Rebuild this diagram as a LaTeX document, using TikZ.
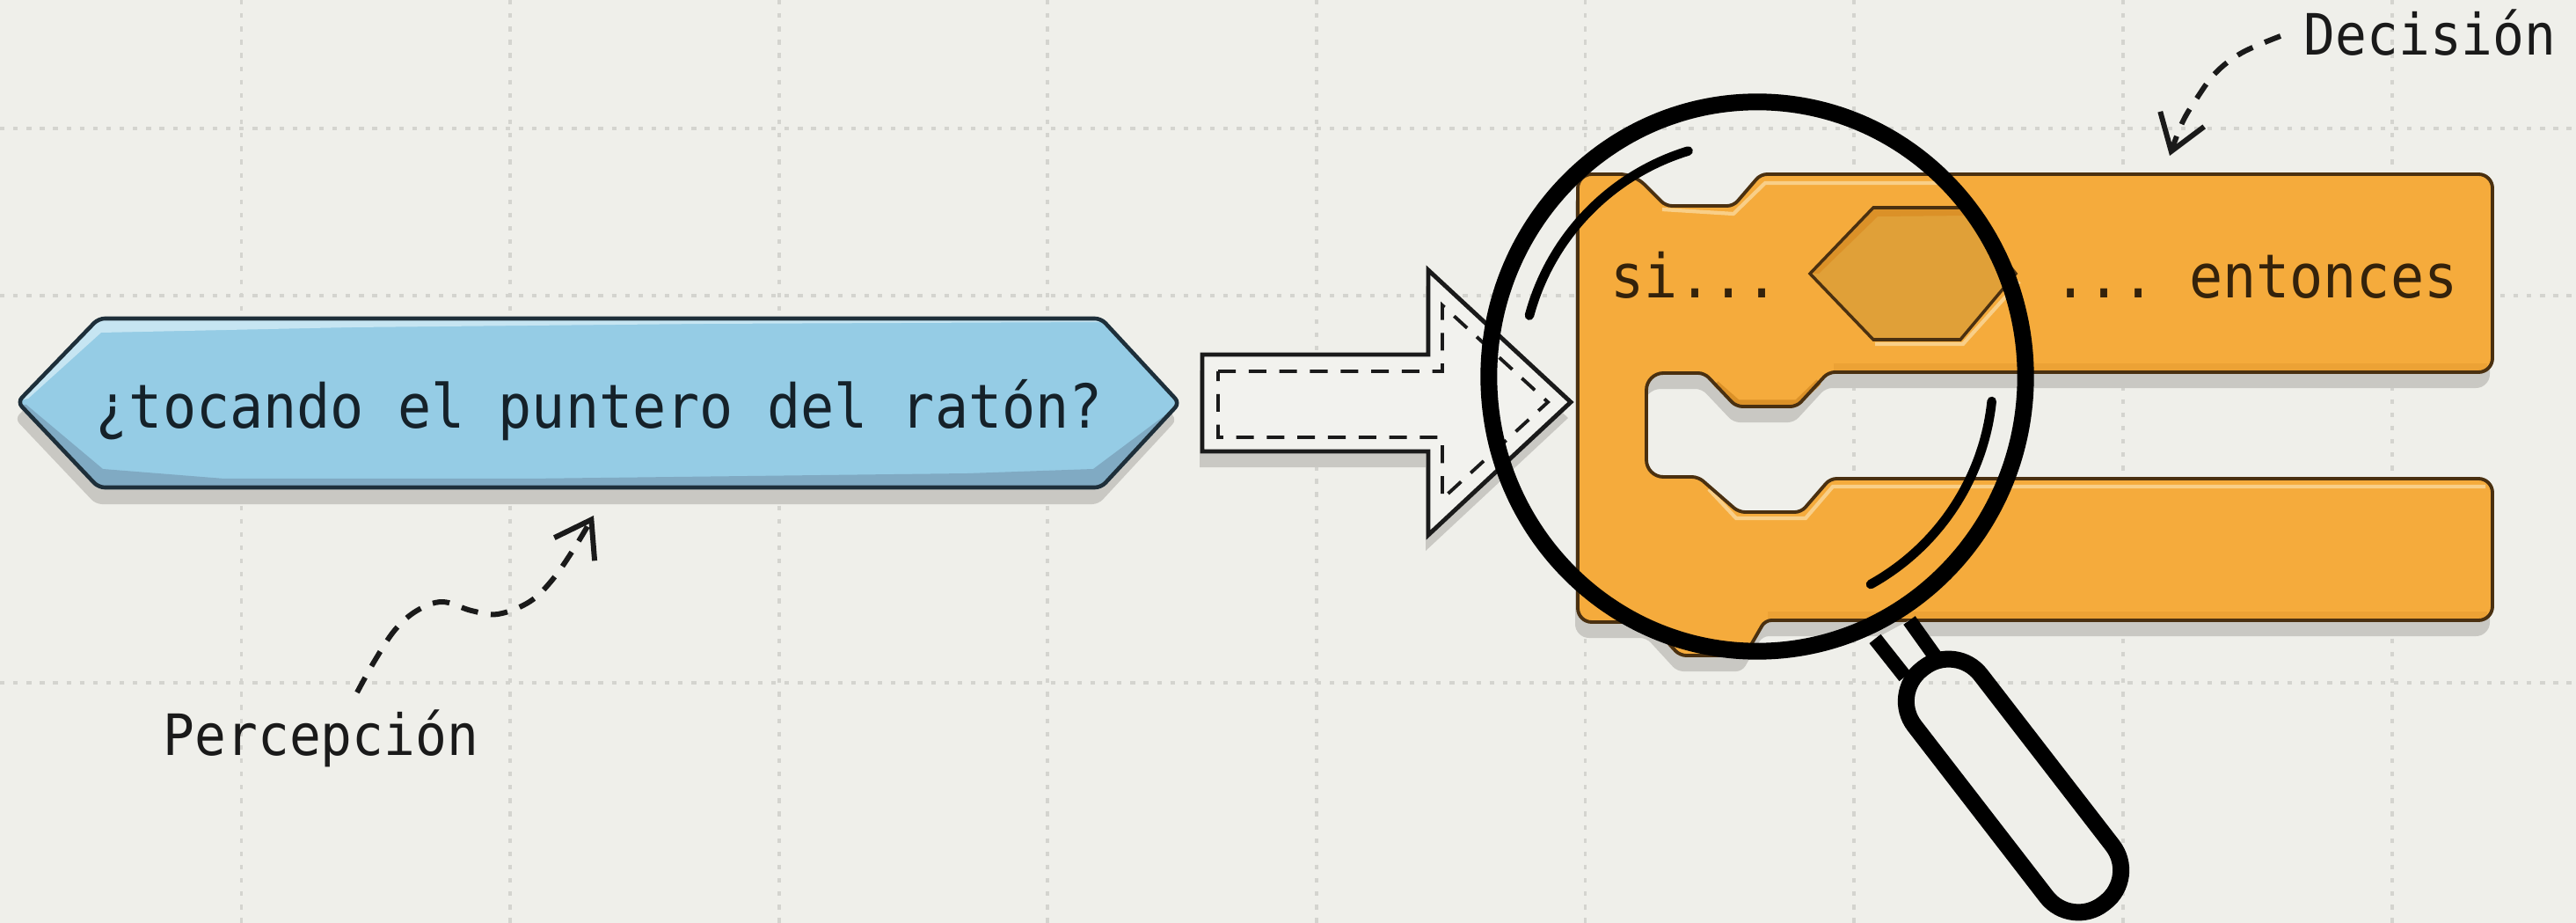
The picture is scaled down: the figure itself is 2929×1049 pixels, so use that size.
\documentclass[tikz,border=0pt]{standalone}
\usepackage{fontspec}
\setmainfont[FakeStretch=0.92]{DejaVu Sans Mono}
\usetikzlibrary{calc,arrows.meta,shapes.geometric}
\definecolor{bg}{HTML}{EFEFEA}
\definecolor{gridc}{HTML}{D4D4CF}
\definecolor{shadowc}{HTML}{C9C8C3}
\definecolor{blue1}{HTML}{95CCE5}
\definecolor{blueL}{HTML}{C6E5F2}
\definecolor{blueD}{HTML}{80AAC3}
\definecolor{blueS}{HTML}{1E2F3A}
\definecolor{or1}{HTML}{F5AB3C}
\definecolor{orL}{HTML}{F9CF88}
\definecolor{orD}{HTML}{DB9128}
\definecolor{orS}{HTML}{4A3010}
\definecolor{hexc}{HTML}{E0A038}
\definecolor{inkc}{HTML}{1A1A1A}
\tikzset{
  gridline/.style={gridc,line width=1.1pt,dash pattern=on 1.5pt off 2.8pt},
  lbl/.style={inner sep=0pt,anchor=base west,font=\fontsize{18.4}{20}\selectfont,text=inkc},
  blocktext/.style={inner sep=0pt,anchor=base west,font=\fontsize{19.6}{20}\selectfont},
  callout/.style={inkc,line width=1.7pt,dash pattern=on 5.5pt off 4.2pt,-{Straight Barb[length=11pt,width=15pt,line width=1.7pt]}},
  glint/.style={black,line width=3pt,line cap=round},
}
\def\bluepath{[rounded corners=2pt] (20,457) -- (112,362) -- (1252,362) -- (1341,458) -- (1252,554) -- (112,554) -- cycle}
\def\arrowpath{(1367,403) -- (1624,403) -- (1624,307) -- (1786,457) -- (1624,608) -- (1624,513) -- (1367,513) -- cycle}
\def\blockpath{[rounded corners=4.5pt] (1794,198) -- (1858,198) [rounded corners=2pt] -- (1894,234) -- (1971,234) -- (2002,198) [rounded corners=4.5pt] -- (2834,198) -- (2834,423) [rounded corners=2pt] -- (2079,423) -- (2043,462) -- (1974,462) -- (1938,424) [rounded corners=5.5pt] -- (1872,424) -- (1872,542) [rounded corners=2pt] -- (1931,542) -- (1977,582) -- (2048,582) -- (2081,544) [rounded corners=4.5pt] -- (2834,544) -- (2834,705) [rounded corners=2pt] -- (2007,705) -- (1984,745) -- (1910,745) -- (1875,707) [rounded corners=4.5pt] -- (1794,707) -- cycle}
\begin{document}
\begin{tikzpicture}[x=0.01cm,y=-0.01cm]
\useasboundingbox (0,0) rectangle (2929,1049);
\fill[bg] (0,0) rectangle (2929,1049);
% grid
\foreach \gx in {274.5,580,885.7,1191,1497,1802.5,2108,2414,2719.6}{\draw[gridline] (\gx,0) -- (\gx,1049);}
\foreach \gy in {146,336,776}{\draw[gridline] (0,\gy) -- (2929,\gy);}
% blue block
\fill[shadowc,xshift=-0.03cm,yshift=-0.19cm] \bluepath;
\fill[blue1] \bluepath;
\fill[blueL] (22,455) -- (112,364) -- (1252,364) -- (1252,366) -- (800,368) -- (400,372) -- (115,378) -- (32,453) -- cycle;
\fill[blueD] (22,460) -- (112,552) -- (1252,552) -- (1338,462) -- (1243,533) -- (1100,538) -- (600,544) -- (255,544) -- (117,533) -- (30,460) -- cycle;
\draw[blueS,line width=1.3pt] \bluepath;
\node[blocktext,text=blueS!70!black] (sensor) at (108,487) {¿tocando el puntero del ratón?};
% white arrow
\fill[shadowc,xshift=-0.03cm,yshift=-0.18cm] \arrowpath;
\fill[bg!80!white,draw=inkc,line width=1.4pt,line join=miter] \arrowpath;
\draw[inkc,line width=1.1pt,dash pattern=on 5.7pt off 4.2pt] (1385,422) -- (1640,422) -- (1640,347) -- (1760,457) -- (1640,567) -- (1640,497) -- (1385,497) -- cycle;
% orange block
\fill[shadowc,xshift=-0.03cm,yshift=-0.18cm] \blockpath;
\fill[or1] \blockpath;
\draw[orL,line width=1.2pt] (1890,238) -- (1971,243) -- (2007,208) -- (2210,208);
\draw[orL,line width=1.2pt] (1943,556) -- (1974,589) -- (2053,589) -- (2084,553) -- (2826,553);
\draw[orD,line width=2pt] (1951,436) -- (1976,458) -- (2043,458) -- (2068,434);
\draw[orD!35!or1,line width=2.2pt] (2010,699) -- (2828,699);
\draw[orD!35!or1,line width=2.2pt] (2085,417) -- (2828,417);
\draw[orS,line width=1.1pt] \blockpath;
% slot
\draw[orL,line width=1.2pt] (2132,391) -- (2232,391) -- (2296,320);
\fill[hexc] (2058,311) -- (2130,236) -- (2232,236) -- (2292,311) -- (2229,386) -- (2130,386) -- cycle;
\fill[orD] (2058,311) -- (2130,236) -- (2232,236) -- (2240,245) -- (2135,246) -- (2068,311) -- cycle;
\draw[orS,line width=1pt] (2058,311) -- (2130,236) -- (2232,236) -- (2292,311) -- (2229,386) -- (2130,386) -- cycle;
\node[blocktext,text=orS!70!black] (si) at (1831,339) {si...};
\node[blocktext,text=orS!70!black] (entonces) at (2335,339) {...\kern-0.12cm{} entonces};
% magnifier
\fill[bg] (2132,726) -- (2171,705) -- (2201,747) -- (2166,769) -- cycle;
\draw[black,line width=4.7pt] (2132,726) -- (2166,769) (2171,705) -- (2201,747);
\node[draw=black,line width=5.4pt,rounded corners=0.46cm,minimum width=3.37cm,minimum height=0.95cm,inner sep=0pt,rotate=-52.3] (handle) at (2289.5,893) {};
\node[ellipse,draw=black,line width=5.4pt,minimum width=6.1cm,minimum height=6.24cm,inner sep=0pt] (lens) at (1998,428) {};
\draw[glint] ($(lens.center)+(107:2.68cm)$) arc[start angle=107,end angle=165,radius=2.68cm];
\draw[glint] ($(lens.center)+(-6:2.68cm)$) arc[start angle=-6,end angle=-61,radius=2.7cm];
% labels and callouts
\node[lbl] (percep) at (185,858) {Percepción};
\node[lbl] (decis) at (2619,63) {Decisión};
\coordinate (pstart) at (406,787);
\coordinate (ptip) at (675,586);
\coordinate (dstart) at (2593,41);
\coordinate (dtip) at (2467,177);
\draw[callout] plot[smooth,tension=0.6] coordinates {(pstart) (426,751) (449,716) (474,694) (503,684) (536,694) (566,698) (602,684) (628,659) (653,623) (ptip)};
\draw[callout] plot[smooth,tension=0.6] coordinates {(dstart) (2549,60) (2519,83) (2497,113) (2481,140) (dtip)};
\end{tikzpicture}
\end{document}
